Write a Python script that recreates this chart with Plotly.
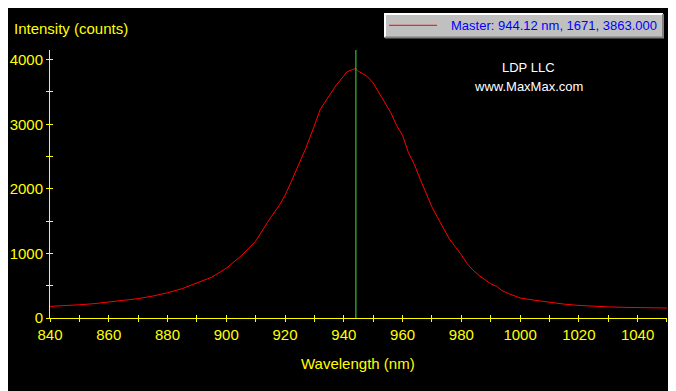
import plotly.graph_objects as go

# ---- data ----
wavelength_nm = [840, 845, 850, 855, 860, 865, 870, 875, 880, 885, 890, 895, 900, 905,
                 910, 915, 918, 920, 922, 924, 927, 930, 932, 935, 937.5, 940, 941, 942,
                 943, 944, 945, 946, 947, 948, 950, 952, 954, 956, 958, 960, 962, 964,
                 966, 968, 970, 972, 974, 976, 978, 980, 982, 984, 986, 988, 990, 992,
                 994, 996, 998, 1000, 1005, 1010, 1015, 1020, 1025, 1030, 1035, 1040,
                 1045, 1050]
intensity_counts = [180, 190, 205, 222, 245, 268, 300, 340, 390, 455, 540, 630, 770, 960,
                    1190, 1550, 1740, 1900, 2100, 2300, 2620, 2980, 3230, 3440, 3610, 3750,
                    3810, 3830, 3850, 3863, 3820, 3790, 3770, 3740, 3640, 3480, 3320, 3180,
                    2980, 2830, 2560, 2380, 2150, 1940, 1720, 1550, 1380, 1220, 1100, 980,
                    840, 740, 660, 600, 530, 490, 420, 380, 340, 310, 275, 240, 215, 195,
                    180, 172, 165, 160, 156, 155]

marker_wavelength = 944.12
marker_index = 1671
marker_intensity = 3863.000

x_ticks = [840, 860, 880, 900, 920, 940, 960, 980, 1000, 1020, 1040]
y_ticks = [0, 1000, 2000, 3000, 4000]

# tick marks (labelled + unlabelled) for the axes
x_tick_marks = list(range(840, 1051, 10))
y_tick_marks = list(range(0, 4001, 500))
x_tick_text = [str(v) if v in x_ticks else "" for v in x_tick_marks]
y_tick_text = [str(v) if v in y_ticks else "" for v in y_tick_marks]

# ---- layout geometry (page body has an 8px margin) ----
OFF = 8
W, H = 676 - OFF, 391 - OFF
L, R, T, B = 50 - OFF, 676 - 667, 50 - OFF, 391 - 318
PW, PH = W - L - R, H - T - B


def px(xp):
    """screen pixel x -> paper x"""
    return (xp - OFF - L) / PW


def py(yp):
    """screen pixel y -> paper y"""
    return (H - B - (yp - OFF)) / PH


YEL = "#ffff00"
TICKFONT = dict(family="Arial, Liberation Sans, sans-serif", size=15, color=YEL)

fig = go.Figure()
fig.add_trace(go.Scatter(x=wavelength_nm, y=intensity_counts, mode="lines",
                         line=dict(color="#ff0000", width=1), showlegend=False,
                         hoverinfo="skip"))
fig.add_trace(go.Scatter(x=[], y=[], xaxis="x2", yaxis="y2", showlegend=False))

fig.add_shape(type="line", xref="x", yref="paper", x0=marker_wavelength, x1=marker_wavelength,
              y0=0, y1=1, line=dict(color="#44e044", width=1))

axis_common = dict(showgrid=False, zeroline=False, linecolor=YEL, linewidth=1,
                   ticklen=3, tickcolor=YEL, tickwidth=1, tickfont=TICKFONT,
                   automargin=False)

X_RANGE = [840, 1050.01]
Y_RANGE = [0, 4150]

fig.update_layout(
    width=W, height=H, margin=dict(l=L, r=R, t=T, b=B, autoexpand=False),
    paper_bgcolor="#000000", plot_bgcolor="#000000",
    xaxis=dict(range=X_RANGE, tickmode="array", tickvals=x_tick_marks, ticktext=x_tick_text,
               ticks="outside", showline=True, **axis_common),
    yaxis=dict(range=Y_RANGE, tickmode="array", tickvals=y_tick_marks, ticktext=y_tick_text,
               ticks="outside", showline=True, **axis_common),
    xaxis2=dict(overlaying="x", anchor="y2", side="bottom", range=X_RANGE, tickmode="array",
                tickvals=x_tick_marks, ticks="inside", showticklabels=False, showline=False,
                **axis_common),
    yaxis2=dict(overlaying="y", anchor="x2", side="left", range=Y_RANGE, tickmode="array",
                tickvals=y_tick_marks, ticks="inside", showticklabels=False, showline=False,
                **axis_common),
)

# axis titles
fig.add_annotation(xref="paper", yref="paper", x=px(12), y=py(29), xanchor="left",
                   yanchor="middle", text="Intensity (counts)", showarrow=False,
                   font=TICKFONT)
fig.add_annotation(xref="paper", yref="paper", x=px(357.5), y=py(363), xanchor="center",
                   yanchor="middle", text="Wavelength (nm)", showarrow=False,
                   font=TICKFONT)

# watermark text
fig.add_annotation(xref="paper", yref="paper", x=px(528), y=py(67), text="LDP LLC",
                   xanchor="center", yanchor="middle", showarrow=False,
                   font=dict(family="Arial, sans-serif", size=13, color="#ffffff"))
fig.add_annotation(xref="paper", yref="paper", x=px(528), y=py(86), text="www.MaxMax.com",
                   xanchor="center", yanchor="middle", showarrow=False,
                   font=dict(family="Arial, sans-serif", size=13, color="#ffffff"))

# legend / readout box
bx0, bx1, by0, by1 = 385, 663, 14, 37.5
fig.add_shape(type="rect", xref="paper", yref="paper", x0=px(bx0), x1=px(bx1), y0=py(by1),
              y1=py(by0), fillcolor="#c0c0c0", line=dict(width=0), layer="above")
fig.add_shape(type="path", xref="paper", yref="paper",
              path=f"M {px(bx0)},{py(by1)} L {px(bx0)},{py(by0)} L {px(bx1)},{py(by0)}",
              line=dict(color="#ffffff", width=2))
fig.add_shape(type="path", xref="paper", yref="paper",
              path=f"M {px(bx0)},{py(by1)} L {px(bx1)},{py(by1)} L {px(bx1)},{py(by0)}",
              line=dict(color="#808080", width=2))
fig.add_shape(type="line", xref="paper", yref="paper", x0=px(389), x1=px(437), y0=py(25.3),
              y1=py(25.3), line=dict(color="#ff0000", width=1))
fig.add_annotation(xref="paper", yref="paper", x=px(659), y=py(25.5), xanchor="right",
                   yanchor="middle", showarrow=False,
                   text=f"Master: {marker_wavelength:.2f} nm, {marker_index}, {marker_intensity:.3f}",
                   font=dict(family="Arial, sans-serif", size=13, color="#0000ff"))

fig.write_html("out.html")
